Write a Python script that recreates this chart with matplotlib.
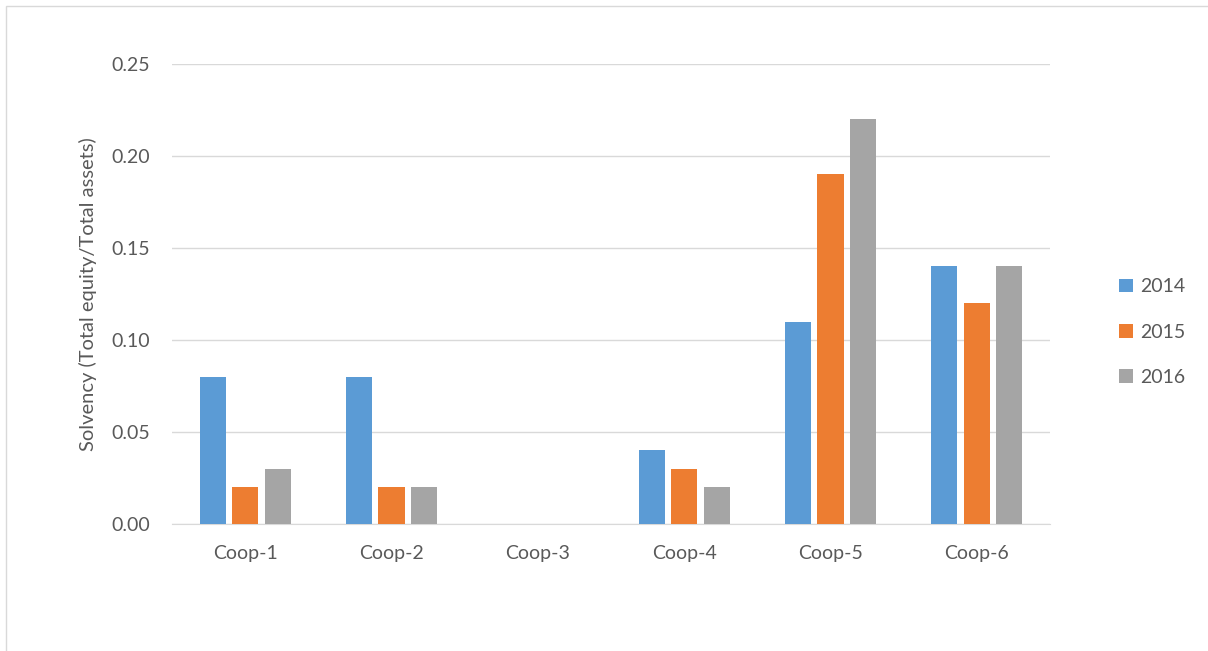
import numpy as np
import matplotlib.pyplot as plt
from matplotlib.patches import Rectangle

coops = ["Coop-1", "Coop-2", "Coop-3", "Coop-4", "Coop-5", "Coop-6"]
years = ["2014", "2015", "2016"]
solv_2014 = [0.08, 0.08, 0.0, 0.04, 0.11, 0.14]
solv_2015 = [0.02, 0.02, 0.0, 0.03, 0.19, 0.12]
solv_2016 = [0.03, 0.02, 0.0, 0.02, 0.22, 0.14]
colors = ["#5B9BD5", "#ED7D31", "#A5A5A5"]

plt.rcParams['font.family'] = ['Lato', 'DejaVu Sans']
text_color = "#595959"

fig = plt.figure(figsize=(12.08, 6.51), dpi=100)
ax = fig.add_axes([0.1424, 0.1951, 0.7268, 0.7066])

x = np.arange(len(coops))
width = 0.178
step = 0.222
for i, (vals, year) in enumerate(zip([solv_2014, solv_2015, solv_2016], years)):
    ax.bar(x + (i - 1) * step, vals, width, color=colors[i], label=year, zorder=3)

ax.set_xlim(-0.5, len(coops) - 0.5)
ax.set_ylim(0, 0.25)
ax.set_yticks(np.arange(0, 0.26, 0.05))
ax.set_yticklabels([f"{v:.2f}" for v in np.arange(0, 0.26, 0.05)])
ax.set_xticks(x)
ax.set_xticklabels(coops)
ax.yaxis.grid(True, color="#d9d9d9", linewidth=1, zorder=0)
for side in ["top", "right", "left"]:
    ax.spines[side].set_visible(False)
ax.spines["bottom"].set_color("#d9d9d9")
ax.tick_params(axis="both", length=0, labelsize=14, colors=text_color)
ax.tick_params(axis="x", pad=15)
ax.tick_params(axis="y", pad=16)
ax.set_ylabel("Solvency (Total equity/Total assets)", fontsize=14.5, color=text_color, labelpad=10)

leg = fig.legend(loc="center left", bbox_to_anchor=(0.912, 0.49), frameon=False,
                 fontsize=14, labelspacing=1.45, handlelength=0.7, handleheight=0.7,
                 handletextpad=0.4, labelcolor=text_color)

# chart border
fig.patches.append(Rectangle((6 / 1208, -0.05), 1.2, 1 - 6 / 651 + 0.05,
                             transform=fig.transFigure, fill=False,
                             edgecolor="#d9d9d9", linewidth=1))

fig.savefig("out.png", dpi=100)
